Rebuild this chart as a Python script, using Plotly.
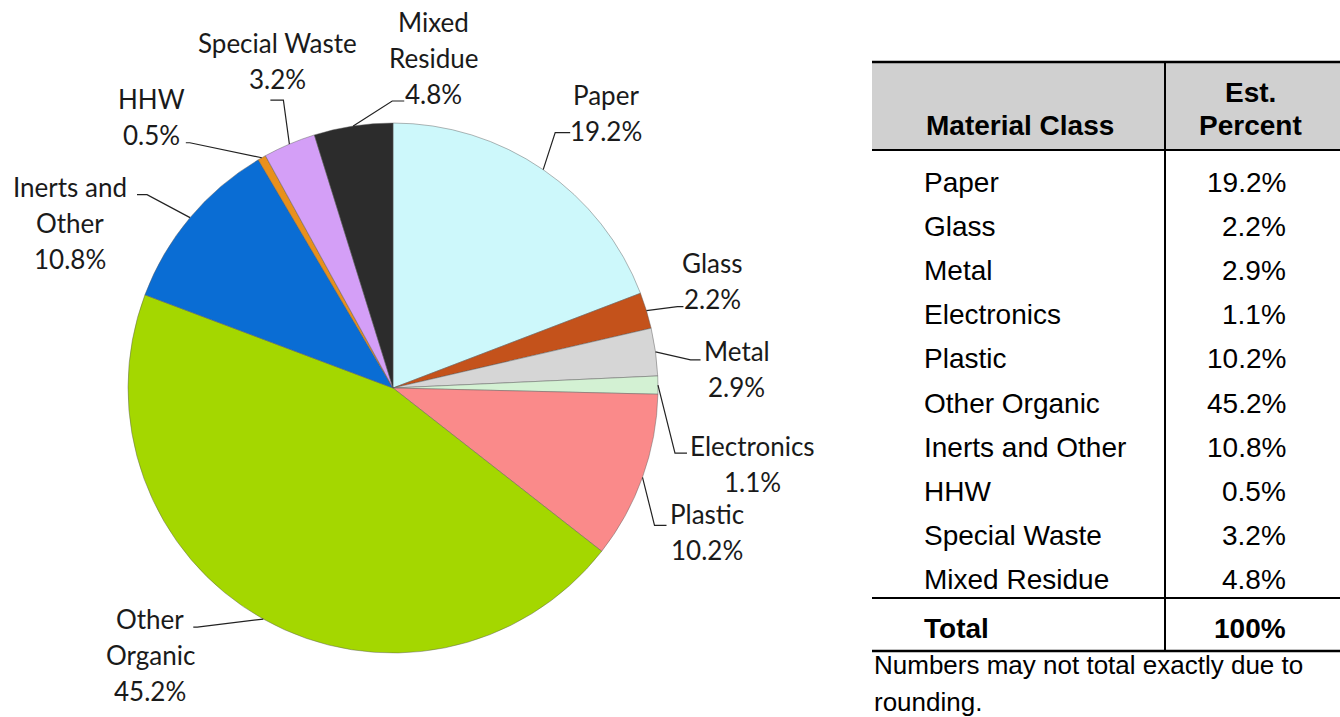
import math
import plotly.graph_objects as go

# ---------------- data ----------------
categories = ["Paper", "Glass", "Metal", "Electronics", "Plastic",
              "Other Organic", "Inerts and Other", "HHW", "Special Waste", "Mixed Residue"]
percents = [19.2, 2.2, 2.9, 1.1, 10.2, 45.2, 10.8, 0.5, 3.2, 4.8]
pie_label_lines = [["Paper"], ["Glass"], ["Metal"], ["Electronics"], ["Plastic"],
                   ["Other", "Organic"], ["Inerts and", "Other"], ["HHW"],
                   ["Special Waste"], ["Mixed", "Residue"]]
table_header = ["Material Class", "Est.", "Percent"]
total_label = "Total"
total_value = "100%"
footnote_lines = ["Numbers may not total exactly due to", "rounding."]

# ---------------- style ----------------
W, H = 1340, 717
colors = ["#cdf8fb", "#c4521b", "#d6d6d6", "#d3f1d3", "#fa8a8a",
          "#a4d700", "#0a6dd4", "#e8901c", "#d49ff7", "#2c2c2c"]
CX, CY, R = 393, 388, 265
PIE_FONT = "Lato"
TBL_FONT = "Liberation Sans"

# leader-line geometry per slice: elbow offset from edge, horizontal tail, text offset
leader_elbow = [(12, -37), (31, -4), (35, 8), (17, 68), (12, 48),
                (-66, 8), (-43, -23), (-72, -15), (-6, -44), (39, -25)]
leader_tail = [15, 6, 10, 12, 12, -4, -10, -4, -13, 12]
text_off = [(63, -75), (66, -48), (81, -1), (95, 61), (64, 37),
            (-113, 0), (-120, -31), (-110, -59), (-12, -101), (80, -104)]
LINE_SP = 36


def px(x):
    return x / W


def py(y):
    return 1 - y / H


fig = go.Figure()
fig.add_trace(go.Pie(
    labels=categories, values=percents, sort=False, direction="clockwise",
    rotation=0, textinfo="none", hoverinfo="label+percent",
    marker=dict(colors=colors, line=dict(color="rgba(90,90,90,0.45)", width=1)),
    domain=dict(x=[px(CX - R), px(CX + R)], y=[py(CY + R), py(CY - R)]),
    showlegend=False,
))

shapes = []
annotations = []

total = sum(percents)
cum = 0.0
for i, v in enumerate(percents):
    mid = (cum + v / 2) / total * 2 * math.pi
    cum += v
    ex = CX + R * math.sin(mid)
    ey = CY - R * math.cos(mid)
    bx, by = ex + leader_elbow[i][0], ey + leader_elbow[i][1]
    tx = bx + leader_tail[i]
    shapes.append(dict(type="path", xref="paper", yref="paper",
                       path=f"M {px(ex)},{py(ey)} L {px(bx)},{py(by)} L {px(tx)},{py(by)}",
                       line=dict(color="#222222", width=1.2)))
    lines = pie_label_lines[i] + [f"{v:.1f}%"]
    lx, ly = ex + text_off[i][0], ey + text_off[i][1]
    for k, t in enumerate(lines):
        annotations.append(dict(text=t, x=px(lx), y=py(ly + k * LINE_SP),
                                xref="paper", yref="paper", showarrow=False,
                                xanchor="center", yanchor="middle",
                                font=dict(family=PIE_FONT, size=26, color="#1a1a1a")))

# ---------------- table ----------------
TL, TR, TDIV = 872, 1340, 1165
T_TOP, T_HB, T_TOT, T_BOT = 62, 150, 598, 651
shapes.append(dict(type="rect", xref="paper", yref="paper",
                   x0=px(TL), x1=px(TR), y0=py(T_HB), y1=py(T_TOP),
                   fillcolor="#d0d0d0", line=dict(width=0)))
for yy, wdt in [(T_TOP, 2.5), (T_HB, 2), (T_TOT, 2), (T_BOT, 2.5)]:
    shapes.append(dict(type="line", xref="paper", yref="paper",
                       x0=px(TL), x1=px(TR), y0=py(yy), y1=py(yy),
                       line=dict(color="black", width=wdt)))
shapes.append(dict(type="line", xref="paper", yref="paper",
                   x0=px(TDIV), x1=px(TDIV), y0=py(T_TOP), y1=py(T_BOT),
                   line=dict(color="black", width=2)))

TF = 28
LBL_X, VAL_X = 922, 1288


def tann(text, x, y, anchor, bold=False, size=TF):
    annotations.append(dict(text=f"<b>{text}</b>" if bold else text,
                            x=px(x), y=py(y), xref="paper", yref="paper",
                            showarrow=False, xanchor=anchor, yanchor="middle",
                            font=dict(family=TBL_FONT, size=size, color="black")))


tann(table_header[0], 1020, 125, "center", bold=True)
tann(table_header[1], 1250, 93, "center", bold=True)
tann(table_header[2], 1250, 125, "center", bold=True)
ROW0, ROW_SP = 182, 44.2
for i, (c, v) in enumerate(zip(categories, percents)):
    y = ROW0 + i * ROW_SP
    tann(c, LBL_X, y, "left")
    tann(f"{v:.1f}%", VAL_X, y, "right")
tann(total_label, LBL_X, 628, "left", bold=True)
tann(total_value, VAL_X, 628, "right", bold=True)
for k, t in enumerate(footnote_lines):
    tann(t, TL, 665 + k * 37, "left", size=26)

fig.update_layout(
    width=W, height=H, margin=dict(l=0, r=0, t=0, b=0),
    paper_bgcolor="white", plot_bgcolor="white",
    shapes=shapes, annotations=annotations, showlegend=False,
)
fig.write_html("out.html", config={"displayModeBar": False},
               post_script="document.body.style.margin='0px';document.body.style.overflow='hidden';")
